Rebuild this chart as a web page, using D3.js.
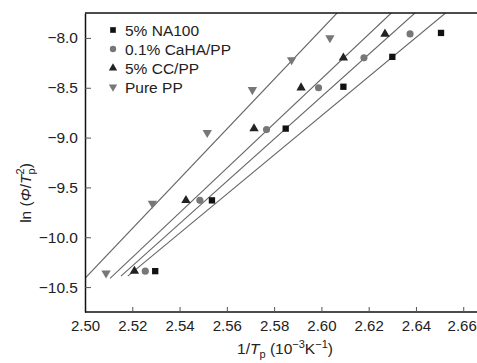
<!DOCTYPE html>
<html>
<head>
<meta charset="utf-8">
<script src="https://cdn.jsdelivr.net/npm/d3@7"></script>
<style>
  body { margin: 0; background: #fff; }
  svg { display: block; font-family: "Liberation Sans", Arial, sans-serif; }
</style>
</head>
<body>
<div id="chart"></div>
<script>
// series: 1/Tp (10^-3 K^-1) and ln(Phi/Tp^2)
const seriesNames = ['5% NA100', '0.1% CaHA/PP', '5% CC/PP', 'Pure PP'];
const naX = [2.5297, 2.5537, 2.5849, 2.6093, 2.6300, 2.6506];
const naY = [-10.34, -9.63, -8.91, -8.49, -8.19, -7.95];
const cahaX = [2.5255, 2.5486, 2.5768, 2.5988, 2.6180, 2.6375];
const cahaY = [-10.34, -9.63, -8.92, -8.50, -8.20, -7.96];
const ccX = [2.5209, 2.5427, 2.5715, 2.5914, 2.6093, 2.6269];
const ccY = [-10.34, -9.63, -8.91, -8.50, -8.20, -7.96];
const ppX = [2.5089, 2.5285, 2.5517, 2.5708, 2.5874, 2.6036];
const ppY = [-10.36, -9.66, -8.95, -8.52, -8.22, -8.00];
// where each fitted line starts on the x axis
const fitStart = [2.5181, 2.5152, 2.5106, 2.5000];

const xTicks = [2.50, 2.52, 2.54, 2.56, 2.58, 2.60, 2.62, 2.64, 2.66];
const yTicks = [-8.0, -8.5, -9.0, -9.5, -10.0, -10.5];

const W = 477, H = 363;
const mLeft = 85, mTop = 13, mBottom = 312;

const x = d3.scaleLinear().domain([2.50, 2.66]).range([mLeft, mLeft + 0.16 * 2364]);
const y = d3.scaleLinear().domain([-10.75, -7.75]).range([mBottom, mTop]);

const svg = d3.select('#chart').append('svg').attr('width', W).attr('height', H);

svg.append('defs').append('clipPath').attr('id', 'plot')
  .append('rect').attr('x', mLeft).attr('y', mTop).attr('width', W - mLeft).attr('height', mBottom - mTop);

const series = [
  { xs: naX, ys: naY, sym: d3.symbolSquare, size: 40, fill: '#111', rot: 0 },
  { xs: cahaX, ys: cahaY, sym: d3.symbolCircle, size: 40, fill: '#777', rot: 0 },
  { xs: ccX, ys: ccY, sym: d3.symbolTriangle, size: 38, fill: '#222', rot: 0 },
  { xs: ppX, ys: ppY, sym: d3.symbolTriangle, size: 38, fill: '#777', rot: 180 }
];

// least-squares fit per series
series.forEach((s, i) => {
  const mx = d3.mean(s.xs), my = d3.mean(s.ys);
  let sxy = 0, sxx = 0;
  s.xs.forEach((v, k) => { sxy += (v - mx) * (s.ys[k] - my); sxx += (v - mx) * (v - mx); });
  const slope = sxy / sxx;
  const x0 = fitStart[i];
  const x1 = mx + (-7.75 - my) / slope;
  svg.append('line')
    .attr('clip-path', 'url(#plot)')
    .attr('x1', x(x0)).attr('y1', y(my + slope * (x0 - mx)))
    .attr('x2', x(x1)).attr('y2', y(-7.75))
    .attr('stroke', '#666').attr('stroke-width', 1.1);
});

series.forEach(s => {
  svg.selectAll(null).data(s.xs).enter().append('path')
    .attr('d', d3.symbol().type(s.sym).size(s.size))
    .attr('transform', (d, k) => `translate(${x(d)},${y(s.ys[k])}) rotate(${s.rot})`)
    .attr('fill', s.fill);
});

// axes
svg.append('g')
  .attr('transform', `translate(0,${mBottom})`)
  .call(d3.axisBottom(x).tickValues(xTicks).tickSizeInner(-5).tickSizeOuter(0).tickPadding(8).tickFormat(d3.format('.2f')))
  .call(g => g.select('.domain').attr('stroke', '#111').attr('stroke-width', 1.5).attr('d', `M${mLeft},0H${W}`))
  .call(g => g.selectAll('.tick line').attr('stroke', '#555'))
  .call(g => g.selectAll('.tick text').attr('font-size', 15).attr('fill', '#222').attr('font-family', null))
  .call(g => g.selectAll('.tick text').filter(d => d === 2.66).attr('text-anchor', 'end').attr('x', 13));

svg.append('g')
  .attr('transform', `translate(${mLeft},0)`)
  .call(d3.axisLeft(y).tickValues(yTicks).tickSizeInner(-6).tickSizeOuter(0).tickPadding(7).tickFormat(d => d3.format('.1f')(d).replace('-', '\u2212')))
  .call(g => g.select('.domain').attr('stroke', '#111').attr('stroke-width', 1.5))
  .call(g => g.selectAll('.tick line').attr('stroke', '#555'))
  .call(g => g.selectAll('.tick text').attr('font-size', 15.5).attr('fill', '#222').attr('font-family', null));

// top frame
svg.append('line').attr('x1', mLeft).attr('x2', W).attr('y1', mTop).attr('y2', mTop)
  .attr('stroke', '#111').attr('stroke-width', 1.5);

// legend
const legend = svg.append('g');
seriesNames.forEach((name, i) => {
  const s = series[i];
  const ly = 30 + i * 19;
  legend.append('path')
    .attr('d', d3.symbol().type(s.sym).size(s.size * 0.8))
    .attr('transform', `translate(113,${ly}) rotate(${s.rot})`)
    .attr('fill', s.fill);
  legend.append('text').attr('x', 125).attr('y', ly + 5.5)
    .attr('font-size', 15.5).attr('fill', '#222').text(name);
});

// axis titles
const xt = svg.append('text').attr('x', 285).attr('y', 354).attr('text-anchor', 'middle')
  .attr('font-size', 15.5).attr('fill', '#222');
xt.append('tspan').text('1/');
xt.append('tspan').attr('font-style', 'italic').text('T');
xt.append('tspan').attr('font-size', 11).attr('dy', 4).text('p');
xt.append('tspan').attr('dy', -4).text(' (10');
xt.append('tspan').attr('font-size', 11).attr('dy', -6).text('\u22123');
xt.append('tspan').attr('dy', 6).text('K');
xt.append('tspan').attr('font-size', 11).attr('dy', -6).text('\u22121');
xt.append('tspan').attr('dy', 6).text(')');

const yt = svg.append('text').attr('transform', 'translate(31,193) rotate(-90)')
  .attr('text-anchor', 'middle').attr('font-size', 15.5).attr('fill', '#222');
yt.append('tspan').text('ln (');
yt.append('tspan').attr('font-style', 'italic').text('\u03A6');
yt.append('tspan').text('/');
yt.append('tspan').attr('font-style', 'italic').text('T');
yt.append('tspan').attr('font-size', 11).attr('dy', 4).text('p');
yt.append('tspan').attr('font-size', 11).attr('dy', -11).attr('dx', -6).text('2');
yt.append('tspan').attr('dy', 7).text(')');
</script>
</body>
</html>
